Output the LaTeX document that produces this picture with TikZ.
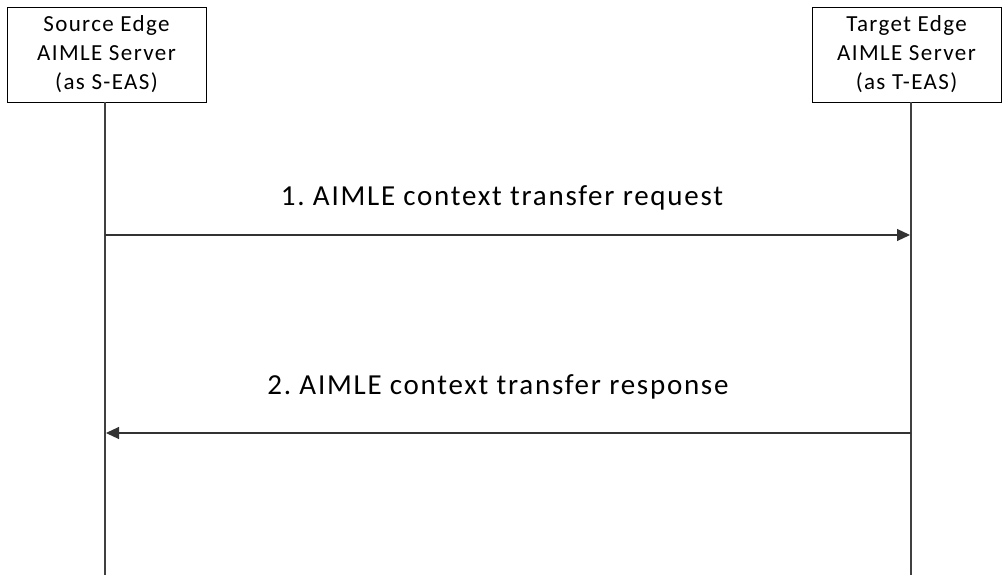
\documentclass[tikz,border=0pt]{standalone}
\usepackage{fontspec}
\setmainfont{Carlito}[LetterSpace=6]
\usetikzlibrary{arrows.meta}
\begin{document}
\frenchspacing
\begin{tikzpicture}[x=1pt,y=-1pt,
  entity/.style={draw=black,line width=0.9pt,fill=white,minimum width=#1,minimum height=95pt,align=center,inner sep=0pt,font=\fontsize{23}{29}\selectfont},
  lifeline/.style={draw=black!75,line width=1.1pt},
  msg/.style={draw=black!80,line width=1.1pt,-{Triangle[length=13pt,width=12pt]}},
  lbl/.style={font=\fontsize{29}{34}\selectfont,inner sep=0pt,anchor=base}]
\useasboundingbox (0,0) rectangle (1002,575);
\node[entity=199pt] (src) at (106.5,54.5) {Source Edge\\AIMLE Server\\(as S-EAS)};
\node[entity=189pt] (tgt) at (906.5,54.5) {Target Edge\\AIMLE Server\\(as T-EAS)};
\coordinate (srcend) at (105,575);
\coordinate (tgtend) at (911,575);
\draw[lifeline] (src.south -| srcend) -- (srcend);
\draw[lifeline] (tgt.south -| tgtend) -- (tgtend);
\coordinate (s1) at (105,235);
\coordinate (t1) at (910,235);
\coordinate (s2) at (106,433);
\coordinate (t2) at (911,433);
\draw[msg] (s1) -- (t1);
\draw[msg] (t2) -- (s2);
\node[lbl] (l1) at (502,206) {1. AIMLE context transfer request};
\node[lbl] (l2) at (498,394) {2. AIMLE context transfer response};
\end{tikzpicture}
\end{document}
